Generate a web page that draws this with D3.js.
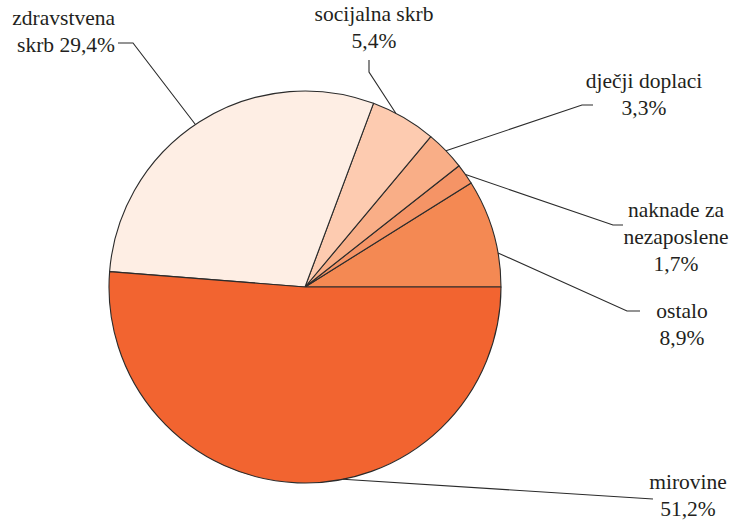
<!DOCTYPE html>
<html><head><meta charset="utf-8">
<script src="https://cdn.jsdelivr.net/npm/d3@7"></script>
<style>body{margin:0;background:#fff}svg{display:block}
.lbl{font-family:"Liberation Serif","Times New Roman",Tinos,"DejaVu Serif",serif;font-size:21.5px;fill:#231f20}</style>
</head><body>
<svg id="c" width="736" height="522"></svg>
<script>
const categories = ["ostalo", "naknade za nezaposlene", "dječji doplaci", "socijalna skrb", "zdravstvena skrb", "mirovine"];
const values = [8.9, 1.7, 3.3, 5.4, 29.4, 51.2];
const valueLabels = ["8,9%", "1,7%", "3,3%", "5,4%", "29,4%", "51,2%"];
const colors = ["#F48953", "#F59466", "#F9AE87", "#FDCBB0", "#FEEEE4", "#F26430"];

// label layout: text lines, anchor x, first baseline, leader angle (deg, clockwise from 12h), leader elbow points
const labelLayout = [
  {lines:["ostalo","8,9%"], x:682, y:318, anchor:"middle", ang:80, pts:[[627,311],[640,311]]},
  {lines:["naknade za","nezaposlene","1,7%"], x:676, y:217, anchor:"middle", ang:55, pts:[[613,225],[623,225]]},
  {lines:["dječji doplaci","3,3%"], x:644, y:88, anchor:"middle", ang:46, pts:[[582,105],[593,105]]},
  {lines:["socijalna skrb","5,4%"], x:374, y:21, anchor:"middle", ang:27.6, pts:[[369,72],[369,60]]},
  {lines:["zdravstvena","skrb 29,4%"], x:115, y:25, anchor:"end", ang:-34, pts:[[133,43],[118,43]]},
  {lines:["mirovine","51,2%"], x:688, y:489, anchor:"middle", ang:168.8, pts:[[653,499]]}
];

const svg = d3.select("#c");
const cx = 305, cy = 287, r = 196;
const g = svg.append("g").attr("transform", `translate(${cx},${cy})`);

const pie = d3.pie().sort(null).value(d => d)
  .startAngle(Math.PI/2).endAngle(Math.PI/2 - 2*Math.PI);
const arcs = pie(values);
const arc = d3.arc().innerRadius(0).outerRadius(r);

g.selectAll("path.slice").data(arcs).join("path")
  .attr("class","slice")
  .attr("d", arc)
  .attr("fill", (d,i) => colors[i])
  .attr("stroke", "#2b2b2b")
  .attr("stroke-width", 1.1)
  .attr("stroke-linejoin","round");

const line = d3.line();
labelLayout.forEach((L, i) => {
  const a = L.ang * Math.PI/180;
  const start = [cx + r*Math.sin(a), cy - r*Math.cos(a)];
  svg.append("path")
    .attr("d", line([start, ...L.pts]))
    .attr("fill","none").attr("stroke","#2b2b2b").attr("stroke-width",1.1);
  const t = svg.append("text")
    .attr("class","lbl")
    .attr("x", L.x).attr("y", L.y)
    .attr("text-anchor", L.anchor);
  L.lines.forEach((s, j) => {
    t.append("tspan").attr("x", L.x).attr("y", L.y + j*27).text(s);
  });
});
</script>
</body></html>
